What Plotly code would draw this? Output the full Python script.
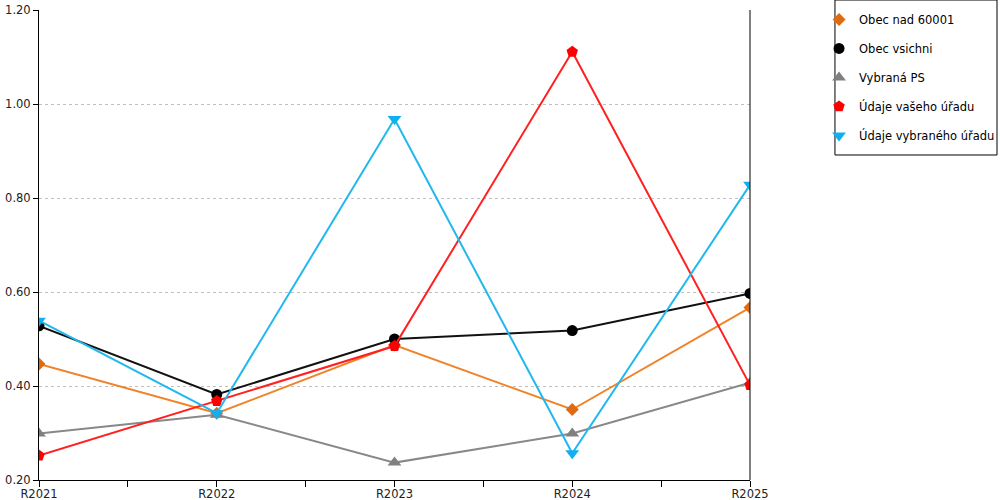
import plotly.graph_objects as go

categories = ["R2021", "R2022", "R2023", "R2024", "R2025"]

obec_nad_60001 = [0.447, 0.342, 0.487, 0.350, 0.567]
obec_vsichni = [0.528, 0.382, 0.500, 0.518, 0.597]
vybrana_ps = [0.299, 0.339, 0.237, 0.299, 0.407]
udaje_vaseho = [0.252, 0.368, 0.485, 1.111, 0.402]
udaje_vybraneho = [0.539, 0.342, 0.968, 0.257, 0.828]

series_names = ["Obec nad 60001", "Obec vsichni", "Vybraná PS",
                "Údaje vašeho úřadu", "Údaje vybraného úřadu"]
series_values = [obec_nad_60001, obec_vsichni, vybrana_ps, udaje_vaseho, udaje_vybraneho]
line_colors = ["#f08228", "#111111", "#888888", "#ff2020", "#22b8ee"]
marker_colors = ["#e06a10", "#000000", "#808080", "#ff0000", "#10b0f0"]
symbols = ["diamond", "circle", "triangle-up", "pentagon", "triangle-down"]
marker_sizes = [10, 11, 12, 12, 12]

y_ticks = [0.2, 0.4, 0.6, 0.8, 1.0, 1.2]

xpos = list(range(len(categories)))

fig = go.Figure()
for i, (name, vals) in enumerate(zip(series_names, series_values)):
    fig.add_trace(go.Scatter(
        x=xpos, y=vals, name=name, mode="lines+markers",
        line=dict(color=line_colors[i], width=2),
        marker=dict(symbol=symbols[i], color=marker_colors[i], size=marker_sizes[i]),
        legendgroup=f"g{i}", showlegend=False,
    ))
# legend entries (markers only, as in the reference legend)
for i, name in enumerate(series_names):
    fig.add_trace(go.Scatter(
        x=[None], y=[None], name=name, mode="markers",
        marker=dict(symbol=symbols[i], color=marker_colors[i], size=marker_sizes[i]),
        legendgroup=f"g{i}", showlegend=True, hoverinfo="skip",
    ))

fig.update_layout(
    width=1000, height=500,
    margin=dict(l=39, r=250, t=10, b=20, autoexpand=False),
    paper_bgcolor="white", plot_bgcolor="white",
    font=dict(family="DejaVu Sans", size=12, color="#222222"),
    showlegend=True,
    legend=dict(
        x=1.0971, y=1.0107, xanchor="left", yanchor="top",
        borderwidth=0, bgcolor="rgba(0,0,0,0)",
        font=dict(size=11.5, color="#000000"),
        traceorder="grouped", tracegroupgap=10,
        itemwidth=30,
    ),
    xaxis=dict(
        range=[0, 4], tickmode="array", tickvals=xpos, ticktext=categories,
        showline=True, linecolor="#000000", linewidth=1,
        ticks="outside", ticklen=6, tickcolor="#000000",
        minor=dict(dtick=0.5, tick0=0, ticks="outside", ticklen=6, tickcolor="#000000"),
        showgrid=False, zeroline=False, fixedrange=True, automargin=False,
        ticklabelstandoff=-3,
        tickfont=dict(size=11.5, color="#222222"),
    ),
    yaxis=dict(
        range=[0.2, 1.2], tickmode="array", tickvals=y_ticks,
        tickformat=".2f",
        showline=True, linecolor="#000000", linewidth=1,
        ticks="outside", ticklen=5, tickcolor="#000000",
        showgrid=True, gridcolor="#c0c0c0", griddash="dot", gridwidth=1,
        zeroline=False, fixedrange=True, automargin=False,
        tickfont=dict(size=11.5, color="#222222"),
    ),
    shapes=[
        dict(type="line", xref="paper", yref="paper", x0=1, x1=1, y0=0, y1=1,
             line=dict(color="#000000", width=1)),
        dict(type="rect", xref="paper", yref="paper",
             x0=1.1195, x1=1.3474, y0=0.6915, y1=1.0213,
             line=dict(color="#000000", width=1), fillcolor="rgba(0,0,0,0)"),
    ],
)

fig.write_html(
    "out.html",
    config={"displayModeBar": False},
    post_script="document.body.style.margin='0';document.body.style.overflow='hidden';",
)
